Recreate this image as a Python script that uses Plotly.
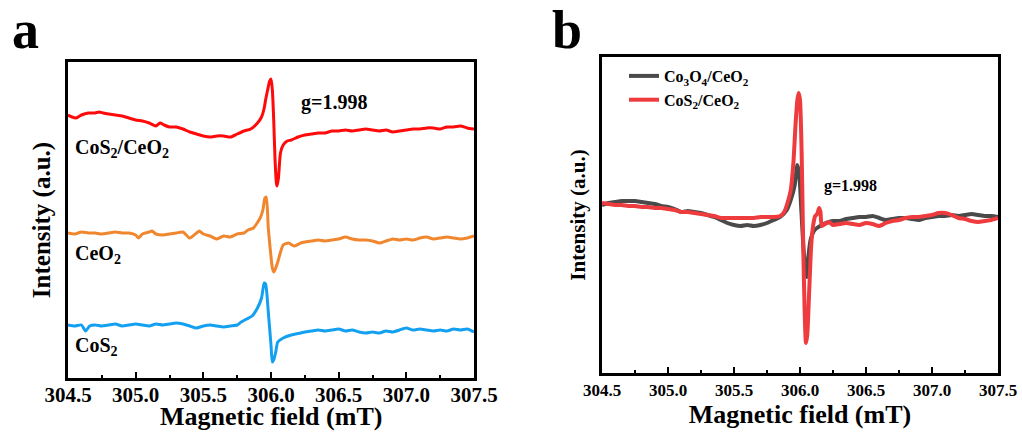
import plotly.graph_objects as go

# ---------------- Panel a: stacked EPR spectra ----------------
field_cos2_ceo2 = [304.50, 304.53, 304.56, 304.60, 304.65, 304.70, 304.73, 304.76, 304.80, 304.85,
                   304.90, 304.95, 305.00, 305.05, 305.10, 305.15, 305.18, 305.21, 305.25, 305.30,
                   305.35, 305.40, 305.45, 305.50, 305.55, 305.60, 305.65, 305.70, 305.75, 305.80,
                   305.85, 305.90, 305.93, 305.95, 305.96, 305.975, 305.99, 306.00, 306.01, 306.02,
                   306.03, 306.04, 306.045, 306.055, 306.07, 306.09, 306.12, 306.15, 306.20, 306.25,
                   306.30, 306.35, 306.40, 306.45, 306.50, 306.55, 306.60, 306.65, 306.70, 306.75,
                   306.80, 306.85, 306.90, 306.95, 307.00, 307.05, 307.10, 307.15, 307.20, 307.25,
                   307.30, 307.35, 307.40, 307.45, 307.50]
int_cos2_ceo2 = [263, 261, 260, 263, 265, 265, 266, 265, 264, 263,
                 262, 260, 258, 257, 255, 252, 255, 253, 251, 251,
                 249, 246, 244, 242, 241, 242, 242, 241, 244, 247,
                 249, 255, 261, 270, 278, 288, 297, 299, 288, 258,
                 218, 195, 192, 200, 225, 233, 237, 238, 241, 243,
                 244, 245, 245, 247, 247, 248, 247, 248, 249, 248,
                 247, 248, 246, 247, 248, 249, 249, 250, 250, 249,
                 251, 251, 252, 250, 249]

field_ceo2 = [304.50, 304.55, 304.60, 304.65, 304.70, 304.75, 304.80, 304.85, 304.90, 304.95,
              305.00, 305.02, 305.05, 305.10, 305.12, 305.15, 305.20, 305.25, 305.30, 305.35,
              305.40, 305.45, 305.47, 305.50, 305.55, 305.60, 305.65, 305.70, 305.75, 305.80,
              305.83, 305.87, 305.92, 305.94, 305.955, 305.965, 305.98, 305.995, 306.01, 306.02,
              306.035, 306.05, 306.09, 306.13, 306.17, 306.22, 306.25, 306.30, 306.35, 306.40,
              306.45, 306.50, 306.55, 306.60, 306.65, 306.70, 306.75, 306.80, 306.85, 306.90,
              306.95, 307.00, 307.05, 307.10, 307.15, 307.20, 307.25, 307.30, 307.35, 307.40,
              307.45, 307.50]
int_ceo2 = [145, 144, 146, 145, 145, 144, 145, 146, 145, 145,
            143, 140, 144, 146, 147, 144, 143, 144, 145, 146,
            140, 145, 147, 144, 142, 139, 142, 141, 144, 145,
            148, 150, 160, 168, 180, 181, 150, 128, 110, 106,
            110, 116, 133, 135, 132, 135, 136, 137, 138, 137,
            138, 139, 141, 139, 138, 138, 137, 135, 137, 139,
            138, 139, 138, 140, 141, 139, 140, 141, 140, 139,
            140, 142]

field_cos2 = [304.50, 304.55, 304.60, 304.63, 304.66, 304.70, 304.75, 304.80, 304.85, 304.90,
              304.95, 305.00, 305.05, 305.10, 305.15, 305.20, 305.25, 305.30, 305.35, 305.40,
              305.45, 305.50, 305.55, 305.60, 305.65, 305.70, 305.75, 305.78, 305.82, 305.86,
              305.90, 305.93, 305.95, 305.96, 305.98, 306.00, 306.01, 306.02, 306.035, 306.05,
              306.09, 306.15, 306.22, 306.25, 306.30, 306.35, 306.40, 306.45, 306.50, 306.55,
              306.60, 306.65, 306.70, 306.75, 306.80, 306.85, 306.90, 306.95, 307.00, 307.05,
              307.10, 307.15, 307.20, 307.25, 307.30, 307.35, 307.40, 307.45, 307.50]
int_cos2 = [53, 52, 53, 47, 52, 53, 52, 53, 54, 52,
            53, 54, 53, 52, 54, 53, 54, 55, 54, 52,
            50, 52, 53, 52, 51, 52, 53, 56, 59, 62,
            70, 80, 95, 94, 66, 33, 16, 18, 26, 36,
            40, 43, 45, 46, 47, 48, 47, 48, 49, 47,
            48, 46, 45, 46, 45, 47, 46, 48, 50, 48,
            49, 48, 47, 48, 47, 49, 48, 49, 46]

# ---------------- Panel b: overlaid EPR spectra ----------------
field_co3o4_ceo2_b = [304.50, 304.55, 304.60, 304.65, 304.70, 304.75, 304.80, 304.85, 304.90, 304.95,
                      305.00, 305.05, 305.10, 305.15, 305.20, 305.25, 305.30, 305.35, 305.40, 305.45,
                      305.50, 305.55, 305.60, 305.65, 305.70, 305.75, 305.80, 305.85, 305.90, 305.93,
                      305.96, 305.98, 305.995, 306.01, 306.03, 306.05, 306.065, 306.08, 306.11, 306.14,
                      306.18, 306.22, 306.25, 306.30, 306.35, 306.40, 306.45, 306.50, 306.55, 306.60,
                      306.65, 306.70, 306.75, 306.80, 306.85, 306.90, 306.95, 307.00, 307.05, 307.10,
                      307.15, 307.20, 307.25, 307.30, 307.35, 307.40, 307.45, 307.50]
int_co3o4_ceo2_b = [168, 170, 171, 172, 172, 172, 171, 170, 169, 167,
                    166, 164, 161, 162, 161, 160, 158, 156, 153, 150,
                    148, 147, 148, 147, 148, 150, 153, 156, 163, 173,
                    188, 208, 198, 163, 118, 96, 118, 133, 143, 146,
                    149, 151, 152, 152, 154, 155, 156, 156, 157, 155,
                    153, 154, 155, 155, 154, 153, 155, 156, 157, 157,
                    158, 157, 158, 159, 158, 157, 157, 156]

field_cos2_ceo2_b = [304.50, 304.55, 304.60, 304.65, 304.70, 304.75, 304.80, 304.85, 304.90, 304.95,
                     305.00, 305.05, 305.10, 305.15, 305.20, 305.25, 305.30, 305.35, 305.40, 305.45,
                     305.50, 305.55, 305.60, 305.65, 305.70, 305.75, 305.80, 305.85, 305.88, 305.905,
                     305.93, 305.95, 305.966, 305.98, 305.99, 306.00, 306.012, 306.025, 306.035, 306.045,
                     306.055, 306.07, 306.085, 306.10, 306.115, 306.13, 306.145, 306.155, 306.165, 306.19,
                     306.22, 306.25, 306.30, 306.35, 306.40, 306.45, 306.50, 306.55, 306.60, 306.65,
                     306.70, 306.75, 306.80, 306.85, 306.90, 306.95, 307.00, 307.05, 307.10, 307.15,
                     307.20, 307.25, 307.30, 307.35, 307.40, 307.45, 307.50]
int_cos2_ceo2_b = [170, 169, 168, 168, 167, 167, 166, 166, 165, 165,
                   164, 163, 161, 161, 160, 159, 158, 157, 155, 155,
                   155, 155, 155, 155, 156, 156, 156, 157, 161, 170,
                   183, 210, 248, 273, 280, 273, 223, 123, 63, 30,
                   38, 83, 128, 148, 157, 159, 165, 161, 147, 149,
                   151, 148, 149, 150, 149, 148, 150, 149, 147, 150,
                   152, 153, 155, 156, 156, 157, 158, 160, 160, 158,
                   155, 154, 152, 151, 152, 153, 155]

tick_vals = [304.5, 305.0, 305.5, 306.0, 306.5, 307.0, 307.5]
tick_text = ["304.5", "305.0", "305.5", "306.0", "306.5", "307.0", "307.5"]

SERIF = "Liberation Serif, Times New Roman, serif"

fig = go.Figure()

fig.add_trace(go.Scatter(x=field_cos2_ceo2, y=int_cos2_ceo2, mode="lines",
                         line=dict(color="#ff0a0a", width=3, shape="spline", smoothing=0.6),
                         showlegend=False, xaxis="x", yaxis="y"))
fig.add_trace(go.Scatter(x=field_ceo2, y=int_ceo2, mode="lines",
                         line=dict(color="#f0872f", width=3, shape="spline", smoothing=0.6),
                         showlegend=False, xaxis="x", yaxis="y"))
fig.add_trace(go.Scatter(x=field_cos2, y=int_cos2, mode="lines",
                         line=dict(color="#14a0f0", width=3, shape="spline", smoothing=0.6),
                         showlegend=False, xaxis="x", yaxis="y"))

fig.add_trace(go.Scatter(x=field_co3o4_ceo2_b, y=int_co3o4_ceo2_b, mode="lines",
                         name="Co<sub>3</sub>O<sub>4</sub>/CeO<sub>2</sub>",
                         line=dict(color="#4a4a4a", width=4, shape="spline", smoothing=0.6),
                         xaxis="x2", yaxis="y2"))
fig.add_trace(go.Scatter(x=field_cos2_ceo2_b, y=int_cos2_ceo2_b, mode="lines",
                         name="CoS<sub>2</sub>/CeO<sub>2</sub>",
                         line=dict(color="#ee3b3e", width=4, shape="spline", smoothing=0.6),
                         xaxis="x2", yaxis="y2"))

W, H = 1022, 435


def px_x(p):
    return p / W


def px_y(p):
    return 1 - p / H


def xaxis_cfg(l, r, tickfont, anchor, label_shift, title):
    return dict(
        domain=[px_x(l), px_x(r)], range=[304.5, 307.5], anchor=anchor,
        tickmode="array", tickvals=tick_vals, ticktext=tick_text,
        ticks="inside", ticklen=6, tickwidth=2, tickcolor="black",
        ticklabelstandoff=label_shift,
        minor=dict(ticks="inside", ticklen=3, tickwidth=2, dtick=0.25, tick0=304.5,
                   tickcolor="black"),
        showline=True, linewidth=2.5, linecolor="black", mirror=True,
        showgrid=False, zeroline=False, automargin=False,
        tickfont=dict(family=SERIF, size=tickfont, color="black", weight="bold"),
        title=dict(text=title, standoff=0,
                   font=dict(family=SERIF, size=26, color="black", weight="bold")),
    )


def yaxis_cfg(t, b, rng, anchor, size):
    return dict(
        domain=[px_y(b), px_y(t)], range=rng, anchor=anchor,
        showticklabels=False, ticks="", showline=True, linewidth=2.5,
        linecolor="black", mirror=True, showgrid=False, zeroline=False,
        automargin=False,
        title=dict(text="Intensity (a.u.)", standoff=8,
                   font=dict(family=SERIF, size=size, color="black", weight="bold")),
    )


fig.update_layout(
    width=W, height=H,
    margin=dict(l=0, r=0, t=0, b=0),
    paper_bgcolor="white", plot_bgcolor="white",
    xaxis=xaxis_cfg(68, 474, 21, "y", -4, ""),
    yaxis=yaxis_cfg(62, 378, [0, 316], "x", 25),
    xaxis2=xaxis_cfg(602, 998, 17, "y2", 0, "Magnetic field (mT)"),
    yaxis2=yaxis_cfg(57, 373, [0, 316], "x2", 21),
    legend=dict(x=px_x(624), y=px_y(59), xanchor="left", yanchor="top",
                bgcolor="rgba(0,0,0,0)", itemwidth=30,
                font=dict(family=SERIF, size=16, color="black", weight="bold")),
)

bold = dict(family=SERIF, color="black", weight="bold")
annotations = [
    dict(text="a", x=px_x(25), y=px_y(30), xref="paper", yref="paper",
         xanchor="center", yanchor="middle",
         font=dict(size=54, **bold), showarrow=False),
    dict(text="b", x=px_x(567), y=px_y(30), xref="paper", yref="paper",
         xanchor="center", yanchor="middle",
         font=dict(size=54, **bold), showarrow=False),
    # x-axis title of panel a, set close under its tick labels
    dict(text="Magnetic field (mT)", x=px_x(271), y=px_y(416), xref="paper", yref="paper",
         xanchor="center", yanchor="middle",
         font=dict(size=26, **bold), showarrow=False),
    dict(text="g=1.998", x=306.463, y=276, xref="x", yref="y",
         font=dict(size=20, **bold), showarrow=False),
    dict(text="CoS<sub>2</sub>/CeO<sub>2</sub>", x=304.535, y=230, xref="x", yref="y",
         xanchor="left", font=dict(size=20, **bold), showarrow=False),
    dict(text="CeO<sub>2</sub>", x=304.535, y=124, xref="x", yref="y",
         xanchor="left", font=dict(size=20, **bold), showarrow=False),
    dict(text="CoS<sub>2</sub>", x=304.535, y=32, xref="x", yref="y",
         xanchor="left", font=dict(size=20, **bold), showarrow=False),
    dict(text="g=1.998", x=306.383, y=187, xref="x2", yref="y2",
         font=dict(size=16, **bold), showarrow=False),
]
fig.update_layout(annotations=annotations)

fig.write_html("out.html")
